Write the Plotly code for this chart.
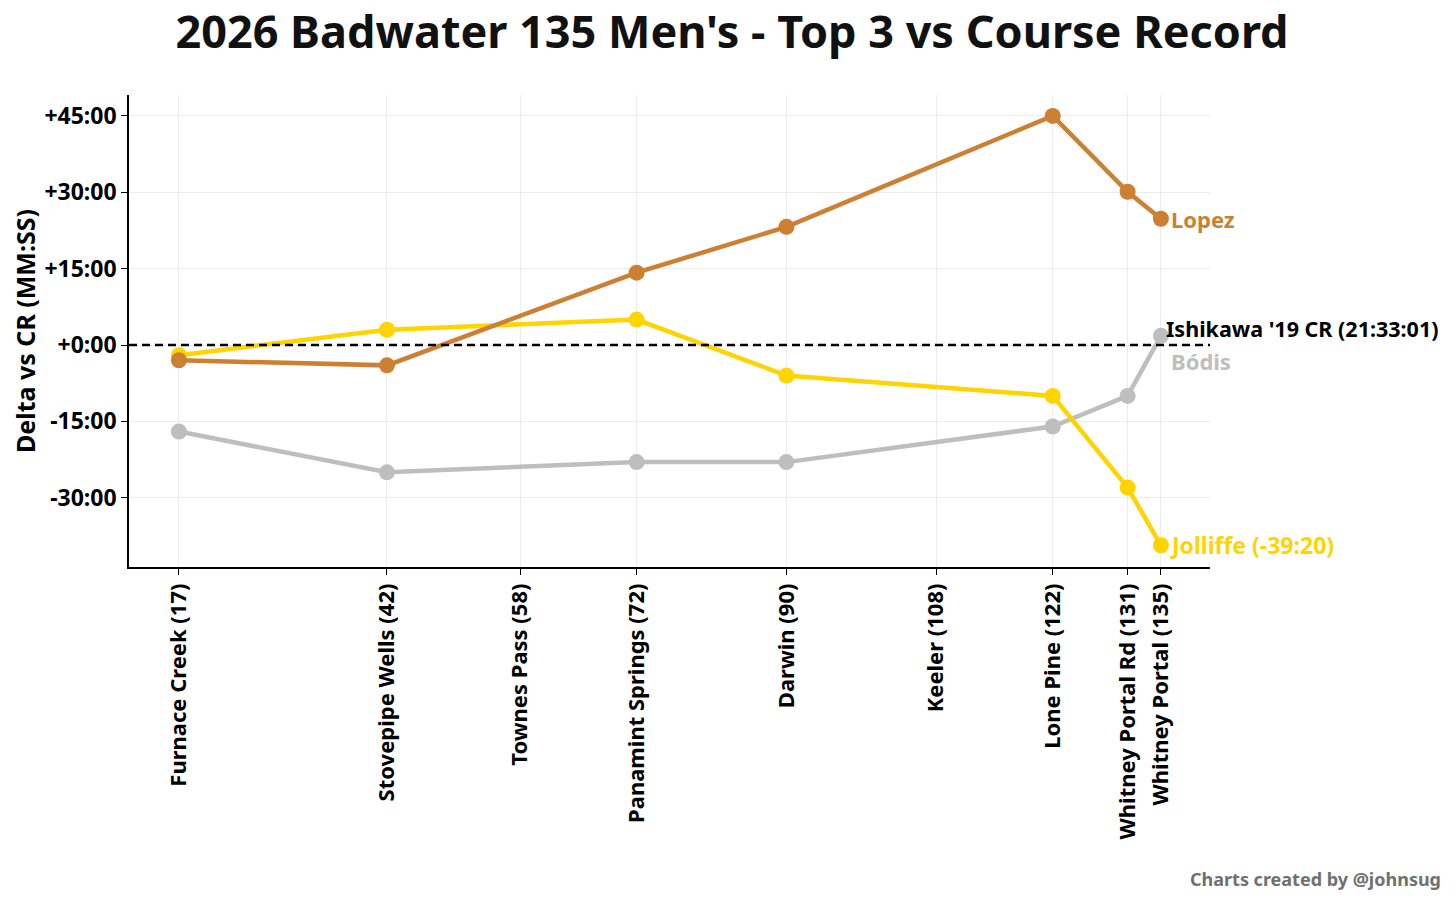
import plotly.graph_objects as go

# checkpoints along the course (mile marker)
checkpoint_miles = [17, 42, 58, 72, 90, 108, 122, 131, 135]
checkpoint_names = ["Furnace Creek (17)", "Stovepipe Wells (42)", "Townes Pass (58)",
                    "Panamint Springs (72)", "Darwin (90)", "Keeler (108)",
                    "Lone Pine (122)", "Whitney Portal Rd (131)", "Whitney Portal (135)"]

# splits where times are known
split_miles = [17, 42, 72, 90, 122, 131, 135]

# delta vs course record, in minutes
lopez = [-3.0, -4.0, 14.2, 23.2, 45.0, 30.1, 24.8]
jolliffe = [-2.0, 3.0, 5.0, -6.0, -10.0, -28.0, -39.33]
bodis = [-17.0, -25.0, -23.0, -23.0, -16.0, -10.0, 1.8]

y_tickvals = [-30, -15, 0, 15, 30, 45]
y_ticktext = ["-30:00", "-15:00", "+0:00", "+15:00", "+30:00", "+45:00"]

FONT = "Noto Sans"
GOLD = "#FFD400"
BRONZE = "#CD7F32"
SILVER = "#BEBEBE"

fig = go.Figure()

for name, vals, col in [("Bódis", bodis, SILVER), ("Jolliffe", jolliffe, GOLD), ("Lopez", lopez, BRONZE)]:
    fig.add_trace(go.Scatter(x=split_miles, y=vals, mode="lines+markers", name=name,
                             line=dict(color=col, width=4.5),
                             marker=dict(color=col, size=16), cliponaxis=False))

# course record reference line
fig.add_shape(type="line", xref="paper", x0=0, x1=1, yref="y", y0=0, y1=0,
              line=dict(color="black", width=2.5, dash="8px,5px"), layer="above")

lab = dict(family=FONT, size=22, weight="bold")
fig.add_annotation(x=135, y=lopez[-1], text="Lopez", showarrow=False, xanchor="left",
                   xshift=8, font=dict(lab, color=BRONZE))
fig.add_annotation(x=135, y=jolliffe[-1], text="Jolliffe (-39:20)", showarrow=False,
                   xanchor="left", xshift=7, font=dict(lab, size=23, color=GOLD))
fig.add_annotation(x=135, y=-3.1, text="Bódis", showarrow=False, xanchor="left",
                   xshift=8, font=dict(lab, color=SILVER))
fig.add_annotation(x=135, y=3.2, text="Ishikawa '19 CR (21:33:01)", showarrow=False,
                   xanchor="left", xshift=3, font=dict(lab, size=21.5, color="black"))

fig.add_annotation(xref="paper", yref="paper", x=1.2155, y=-0.66, xanchor="right", yanchor="middle",
                   text="Charts created by @johnsug", showarrow=False,
                   font=dict(family=FONT, size=18, weight="bold", color="#707070"))

fig.update_layout(
    width=1448, height=891, autosize=False,
    plot_bgcolor="white", paper_bgcolor="white",
    margin=dict(l=121, r=246, t=87, b=332, autoexpand=False),
    showlegend=False,
    title=dict(text="2026 Badwater 135 Men's - Top 3 vs Course Record", x=0.5, xanchor="center",
               y=0.973, yanchor="middle",
               font=dict(family=FONT, size=45, weight="bold", color="#111111")),
    font=dict(family=FONT, color="black"),
)
fig.update_xaxes(range=[11, 140.9], tickmode="array", tickvals=checkpoint_miles, ticktext=checkpoint_names,
                 tickangle=-90, tickfont=dict(family=FONT, size=22, weight="bold", color="black"),
                 showline=True, linecolor="black", linewidth=1.5, ticks="outside", ticklen=6,
                 tickcolor="black", showgrid=True, gridcolor="#ececec", gridwidth=1, zeroline=False)
fig.update_yaxes(range=[-43.6, 49.1], tickmode="array", tickvals=y_tickvals, ticktext=y_ticktext,
                 tickfont=dict(family=FONT, size=23, weight="bold", color="black"),
                 showline=True, linecolor="black", linewidth=1.5, ticks="outside", ticklen=6,
                 tickcolor="black", showgrid=True, gridcolor="#ececec", gridwidth=1, zeroline=False,
                 title=dict(text="Delta vs CR (MM:SS)", font=dict(family=FONT, size=25, weight="bold", color="black"),
                            standoff=8))

fig.write_html("out.html")
